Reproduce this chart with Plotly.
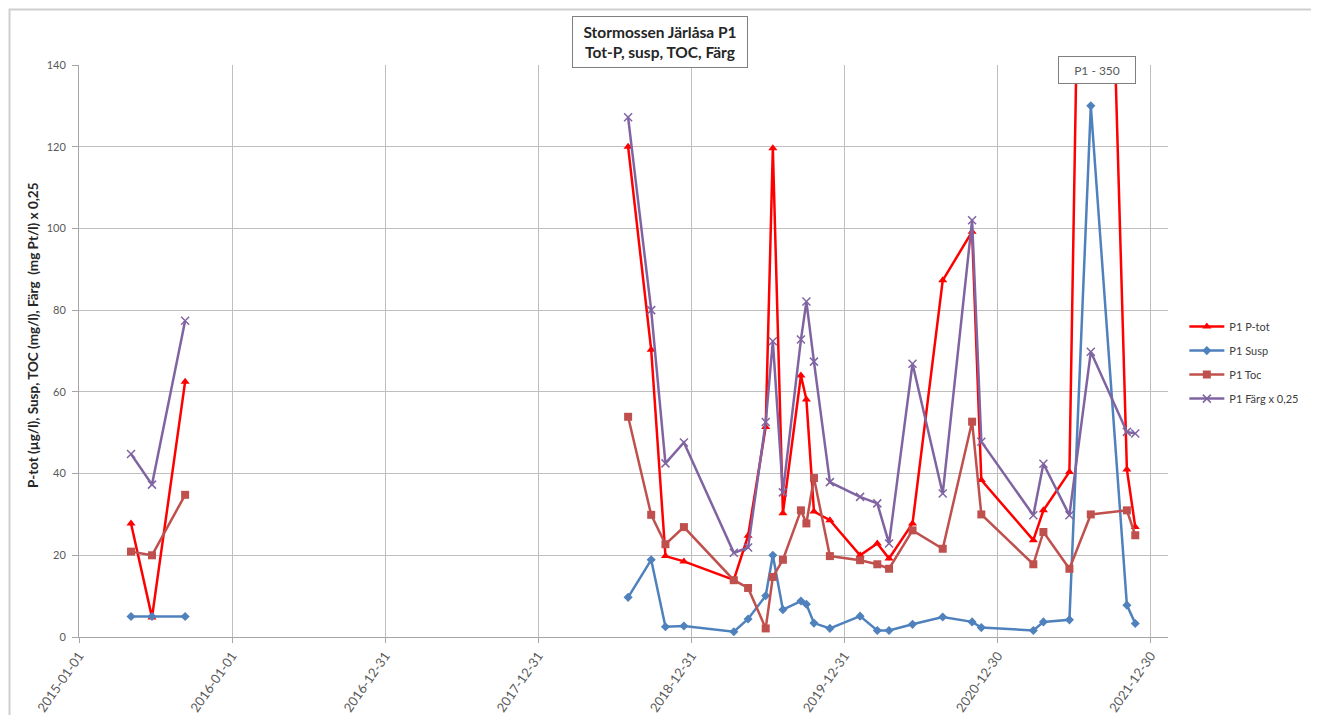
import plotly.graph_objects as go

# Sample dates (None row = gap between 2015 and 2018 campaigns)
dates = [
    "2015-05-05", "2015-06-24", "2015-09-11",
    "2016-06-01",
    "2018-08-02", "2018-09-26", "2018-10-30", "2018-12-13",
    "2019-04-11", "2019-05-15", "2019-06-26", "2019-07-13",
    "2019-08-06", "2019-09-18", "2019-10-01", "2019-10-19", "2019-11-26",
    "2020-02-06", "2020-03-18", "2020-04-15", "2020-06-10", "2020-08-21",
    "2020-10-30", "2020-11-21",
    "2021-03-25", "2021-04-18", "2021-06-19", "2021-08-09",
    "2021-11-03", "2021-11-23",
]

p_tot = [27.8, 4.8, 62.5,
         None,
         120, 70.3, 19.8, 18.5,
         14.0, 24.8, 51.4, 119.6,
         30.3, 64.0, 58.1, 30.7, 28.6,
         20.0, 22.9, 19.2, 27.8, 87.3,
         99.2, 38.4,
         23.7, 31.0, 40.4, 350,
         41.0, 26.9]

susp = [5.0, 5.0, 5.0,
        None,
        9.7, 18.9, 2.5, 2.7,
        1.3, 4.4, 10.1, 20.0,
        6.7, 8.8, 8.0, 3.4, 2.1,
        5.1, 1.6, 1.6, 3.1, 4.9,
        3.7, 2.3,
        1.6, 3.7, 4.2, 130,
        7.8, 3.3]

toc = [20.9, 20.0, 34.8,
       None,
       53.9, 29.9, 22.7, 26.9,
       13.9, 12.0, 2.1, 14.7,
       18.9, 31.0, 27.8, 38.9, 19.8,
       18.8, 17.8, 16.7, 26.1, 21.6,
       52.7, 30.0,
       17.8, 25.7, 16.7, 30.0,
       31.0, 24.9]

farg = [44.8, 37.3, 77.4,
        None,
        127.2, 80.0, 42.5, 47.6,
        20.6, 21.9, 52.6, 72.4,
        35.4, 72.8, 82.1, 67.4, 37.9,
        34.3, 32.7, 22.9, 66.9, 35.1,
        102.0, 47.8,
        29.8, 42.4, 29.8, 69.8,
        50.2, 49.8]

tick_dates = ["2015-01-01", "2016-01-01", "2016-12-31", "2017-12-31",
              "2018-12-31", "2019-12-31", "2020-12-30", "2021-12-30"]
y_ticks = [0, 20, 40, 60, 80, 100, 120, 140]

series = [
    ("P1 P-tot", p_tot, "#FF0000", "triangle-up", 8),
    ("P1 Susp", susp, "#4F81BD", "diamond", 7),
    ("P1 Toc", toc, "#C0504D", "square", 8),
    ("P1 Färg x 0,25", farg, "#8064A2", "x-thin-open", 8),
]

FONT = "Lato, 'Liberation Sans', sans-serif"

fig = go.Figure()
for i, (name, vals, col, sym, size) in enumerate(series):
    marker = dict(symbol=sym, size=size, color=col)
    if sym.endswith("open"):
        marker["line"] = dict(color=col, width=1.5)
    fig.add_trace(go.Scatter(
        x=dates, y=vals, name=name, mode="lines+markers",
        line=dict(color=col, width=2.5), marker=marker,
        connectgaps=False, legendgroup=f"g{i}",
    ))

# page body has an 8px margin: figure is shifted accordingly
fig.update_layout(
    width=1311, height=707,
    margin=dict(l=71, r=151, t=57, b=78, autoexpand=False),
    paper_bgcolor="white", plot_bgcolor="white",
    font=dict(family=FONT, size=11, color="#595959"),
    legend=dict(x=1.015, y=0.568, xanchor="left", yanchor="top",
                font=dict(size=11, color="#404040"),
                tracegroupgap=5, itemwidth=35, bgcolor="rgba(0,0,0,0)"),
    showlegend=True,
)

fig.update_xaxes(
    type="date", range=["2015-01-01", "2022-02-09"],
    tickvals=tick_dates, ticktext=tick_dates, tickangle=-55,
    showgrid=True, gridcolor="#bfbfbf", gridwidth=1,
    showline=True, linecolor="#a6a6a6", linewidth=1,
    ticks="outside", ticklen=5, tickcolor="#a6a6a6",
    tickfont=dict(size=13, color="#595959"), zeroline=False,
    automargin=False,
)
fig.update_yaxes(
    range=[0, 140], tickvals=y_ticks,
    showgrid=True, gridcolor="#bfbfbf", gridwidth=1,
    showline=True, linecolor="#a6a6a6", linewidth=1,
    ticks="outside", ticklen=6, tickcolor="#a6a6a6",
    ticklabelstandoff=4,
    tickfont=dict(size=11, color="#595959"), zeroline=False,
    automargin=False,
)

# Title box
fig.add_annotation(
    xref="paper", yref="paper", x=0.5335, y=1.040,
    xanchor="center", yanchor="middle",
    text="<b>Stormossen Järlåsa P1</b><br><b>Tot-P, susp, TOC, Färg</b>",
    showarrow=False, font=dict(family=FONT, size=15.5, color="#262626"),
    bgcolor="white", bordercolor="#7f7f7f", borderwidth=1,
    width=172, height=48, align="center",
)

# Y axis title
fig.add_annotation(
    xref="paper", yref="paper", x=-0.0422, y=0.528,
    xanchor="center", yanchor="middle",
    text="<b>P-tot (µg/l), Susp, TOC (mg/l), Färg  (mg Pt/l) x 0,25</b>",
    showarrow=False, textangle=-90,
    font=dict(family=FONT, size=13.5, color="#262626"),
)

# Off-scale label
fig.add_annotation(
    xref="paper", yref="paper", x=0.9348, y=0.991,
    xanchor="center", yanchor="middle",
    text="P1 - 350", showarrow=False,
    font=dict(family=FONT, size=12, color="#595959"),
    bgcolor="white", bordercolor="#7f7f7f", borderwidth=1,
    width=74, height=24,
)

# Chart-area border
fig.add_shape(type="rect", xref="paper", yref="paper",
              x0=-0.0638, x1=1.1332, y0=-0.16, y1=1.097,
              line=dict(color="#cfcfcf", width=2), layer="below")

fig.write_html("out.html")
